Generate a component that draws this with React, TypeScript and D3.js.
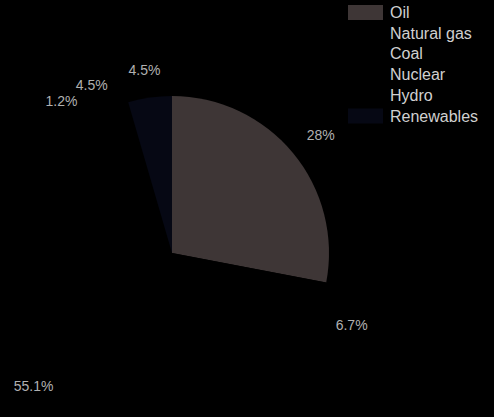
import React from "react";
import * as d3 from "d3";

const categories = ["Oil", "Natural gas", "Coal", "Nuclear", "Hydro", "Renewables"];
const shares = [28, 6.7, 55.1, 1.2, 4.5, 4.5];
const colors = ["#3e3636", "#000000", "#000000", "#000000", "#000000", "#060814"];

const width = 494;
const height = 417;
const cx = 172;
const cy = 253;
const radius = 157;
const labelRadius = 179;
const labelSize = 14;

// rough Arial advance widths, enough to push a label out of the circle
const glyph = (ch: string) => (ch === "." ? 0.278 : ch === "%" ? 0.889 : 0.556);
const textWidth = (s: string, size: number) =>
  s.split("").reduce((w, ch) => w + glyph(ch) * size, 0);

export default function App() {
  const pie = d3.pie<number>().sort(null).value((d) => d);
  const arcs = pie(shares);
  const arc = d3.arc<d3.PieArcDatum<number>>().innerRadius(0).outerRadius(radius);

  return (
    <svg
      width={width}
      height={height}
      style={{ position: "absolute", left: 0, top: 0, background: "#000" }}
      fontFamily="Liberation Sans, Arial, sans-serif"
    >
      <rect width={width} height={height} fill="#000" />
      <g transform={`translate(${cx},${cy})`}>
        {arcs.map((a, i) => (
          <path key={categories[i]} d={arc(a) || ""} fill={colors[i]} />
        ))}
        {arcs.map((a, i) => {
          const label = `${shares[i]}%`;
          const mid = (a.startAngle + a.endAngle) / 2;
          const sx = Math.sin(mid);
          const sy = -Math.cos(mid);
          const w = textWidth(label, labelSize);
          const x = labelRadius * sx + (sx * w) / 2;
          const y = labelRadius * sy + sy * 5.5;
          return (
            <text
              key={"l" + i}
              x={x}
              y={y}
              dy="0.36em"
              textAnchor="middle"
              fontSize={labelSize}
              fill="#b0b0b0"
            >
              {label}
            </text>
          );
        })}
      </g>
      <g transform="translate(348,5)">
        {categories.map((c, i) => (
          <g key={c} transform={`translate(0,${i * 20.7})`}>
            <rect width={35} height={15} fill={colors[i]} />
            <text x={42} y={13} fontSize={16} fill="#d0d0d0">
              {c}
            </text>
          </g>
        ))}
      </g>
    </svg>
  );
}
